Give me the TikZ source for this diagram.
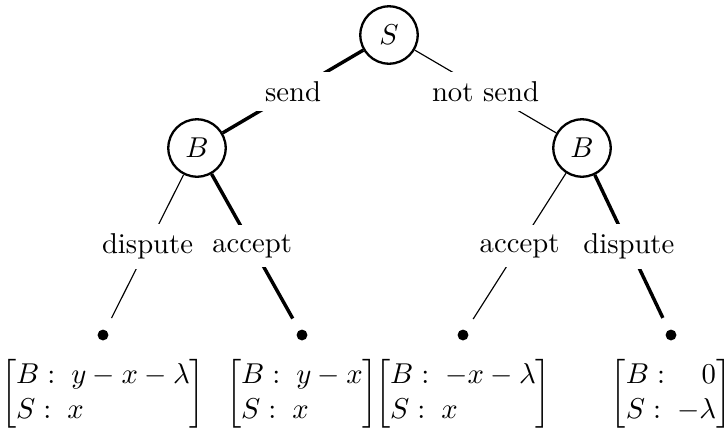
\documentclass[tikz,border=0pt]{standalone}
\usepackage{amsmath}
\begin{document}
\begin{tikzpicture}[x=0.3484pt,y=-0.3484pt,
  player/.style={circle,draw,line width=0.8pt,minimum size=20pt,inner sep=0pt},
  leaf/.style={circle,minimum size=12.8pt,inner sep=0pt},
  lbl/.style={midway,fill=white},
  thinedge/.style={line width=0.4pt},
  thickedge/.style={line width=1.2pt},
  payoff/.style={anchor=north,inner ysep=3.33pt,inner xsep=0.5pt,yshift=1.5pt}]
\useasboundingbox (0,0) rectangle (728,429);
\node[player] (S) at (389,35) {$S$};
\node[player] (BL) at (197,148) {$B$};
\node[player] (BR) at (582,148) {$B$};
\node[leaf] (L1) at (103,335) {};
\node[leaf] (L2) at (302,335) {};
\node[leaf] (L3) at (463,335) {};
\node[leaf] (L4) at (671,335) {};
\foreach \n in {L1,L2,L3,L4} \fill (\n) circle (1.9pt);
\draw[thickedge] (S) -- node[lbl]{send} (BL);
\draw[thinedge] (S) -- node[lbl]{not send} (BR);
\draw[thinedge] (BL) -- node[lbl]{dispute} (L1);
\draw[thickedge] (BL) -- node[lbl]{accept} (L2);
\draw[thinedge] (BR) -- node[lbl]{accept} (L3);
\draw[thickedge] (BR) -- node[lbl]{dispute} (L4);
\node[payoff] (P1) at (L1.south) {$\left[\begin{array}{@{}l@{}} B:\; y-x-\lambda\\ S:\; x\end{array}\right]$};
\node[payoff] (P2) at (L2.south) {$\left[\begin{array}{@{}l@{}} B:\; y-x\\ S:\; x\end{array}\right]$};
\node[payoff] (P3) at (L3.south) {$\left[\begin{array}{@{}l@{}} B:\; -x-\lambda\\ S:\; x\end{array}\right]$};
\node[payoff] (P4) at (L4.south) {$\left[\begin{array}{@{}l@{}} B:\hfill 0\\ S:\; -\lambda\end{array}\right]$};
\end{tikzpicture}
\end{document}
